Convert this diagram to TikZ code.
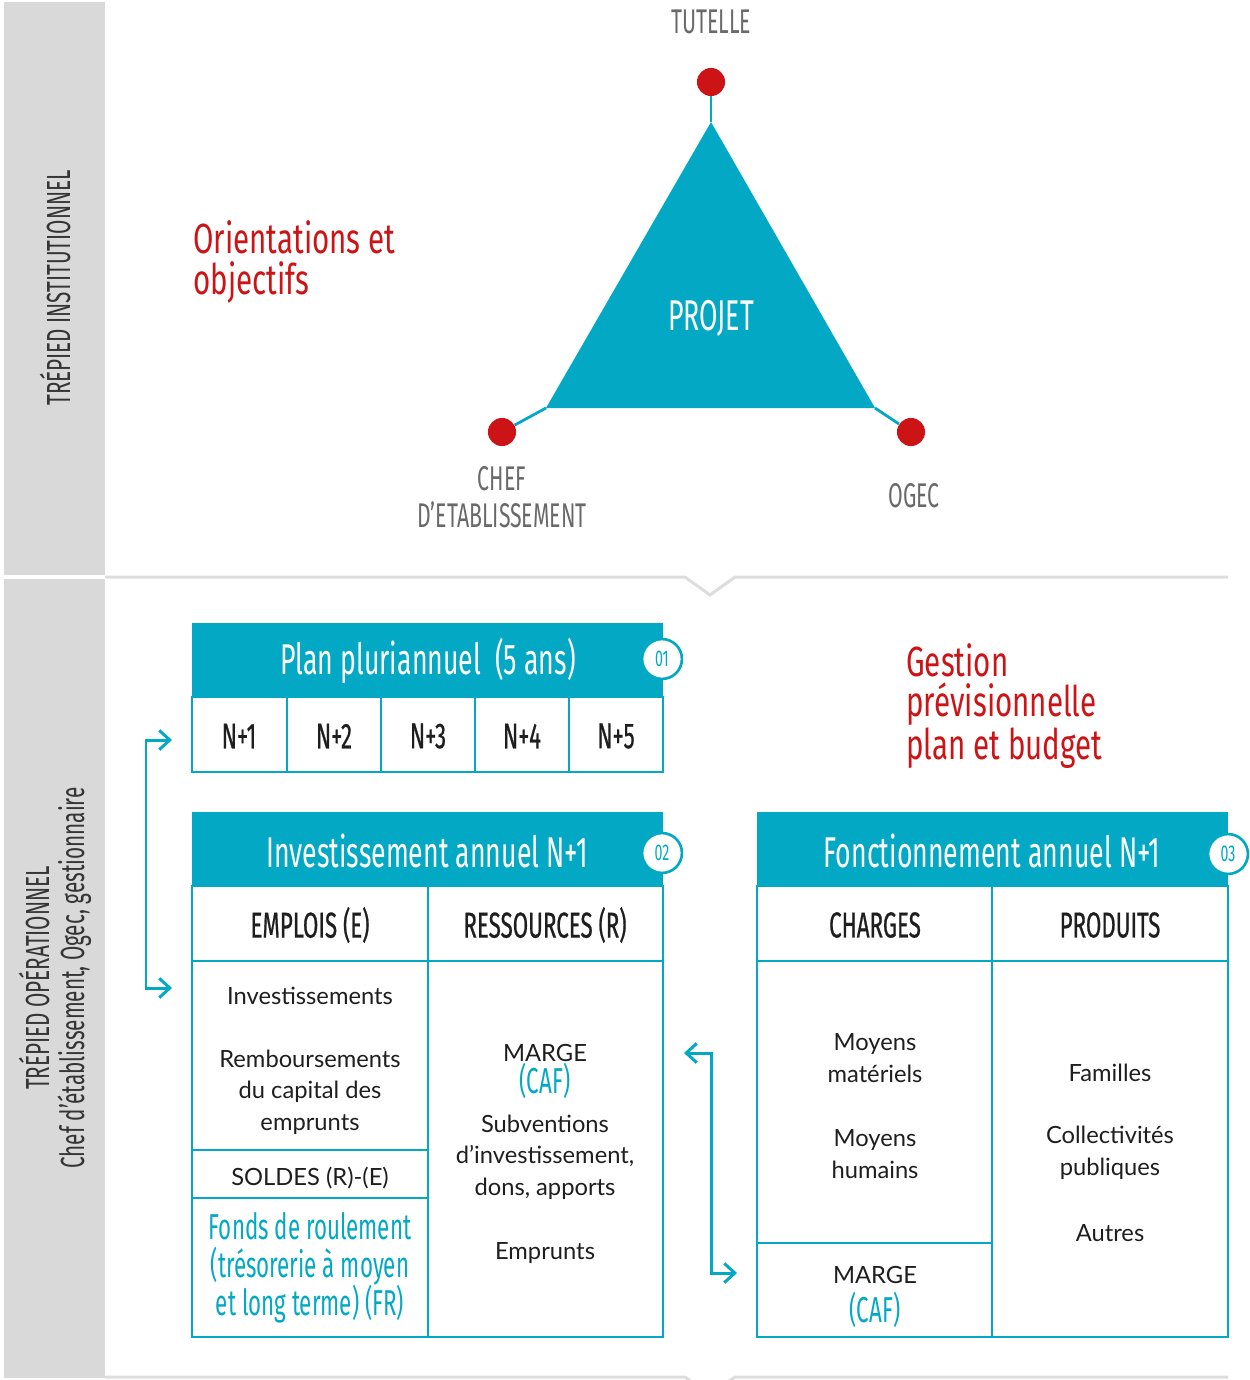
\documentclass[tikz,border=0pt]{standalone}
\usepackage{fontspec}
\setmainfont{Lato}
\newfontfamily\dinfont[FakeStretch=0.62]{Fira Sans}
\newfontfamily\dinmed[FakeStretch=0.62,FakeBold=0.6]{Fira Sans}
\newfontfamily\dinlarge[FakeStretch=0.7]{Fira Sans}
\usetikzlibrary{arrows.meta}

\definecolor{bleu}{RGB}{3,169,196}
\definecolor{rouge}{RGB}{204,20,23}
\definecolor{grisfond}{RGB}{217,217,217}
\definecolor{gristexte}{RGB}{105,105,105}
\definecolor{grisligne}{RGB}{221,221,221}
\definecolor{noirtxt}{RGB}{30,30,30}

\tikzset{
  titre/.style={font=\dinfont\fontsize{24.5}{28}\selectfont, text=white},
  entete/.style={font=\dinmed\fontsize{20.5}{24}\selectfont, text=noirtxt},
  corps/.style={font=\fontsize{13.5}{18}\selectfont, align=center, text=noirtxt},
  bleutxt/.style={font=\dinfont\fontsize{20.5}{21.8}\selectfont, align=center, text=bleu},
  rougetxt/.style={font=\dinlarge\fontsize{24}{23}\selectfont, align=left, text=rouge,
    anchor=west, inner xsep=0pt},
  pole/.style={font=\dinfont\fontsize{19.5}{21}\selectfont, align=center, text=gristexte},
  cote/.style={font=\dinfont\fontsize{19}{20}\selectfont, align=center, text=noirtxt!90, rotate=90},
  pastille/.style={circle, draw=bleu, line width=1.5pt, fill=white, minimum size=22.7pt,
    inner sep=0pt, text=bleu, font=\dinfont\fontsize{13}{13}\selectfont},
  point/.style={circle, fill=rouge, minimum size=16pt, inner sep=0pt},
  trait/.style={draw=bleu, line width=1.1pt},
  fleche/.style={draw=bleu, line width=1.7pt, >={Straight Barb[length=6pt,width=11pt]}, <->},
  separ/.style={draw=grisligne, line width=1.7pt}
}

\begin{document}
\begin{tikzpicture}[x=0.02cm,y=-0.02cm]
	\useasboundingbox (0,0) rectangle (1250,1380);

	\fill[grisfond] (4,2) rectangle (105,575);
	\fill[grisfond] (4,579) rectangle (105,1378);
	\node[cote] (tinst) at (55,288) {TRÉPIED INSTITUTIONNEL};
	\node[cote] (tope) at (55,978) {TRÉPIED OPÉRATIONNEL\\Chef d’établissement, Ogec, gestionnaire};

	\draw[separ] (105,577) -- (685,577) -- (710,595) -- (735,577) -- (1228,577);
	\draw[separ] (105,1377) -- (685,1377) -- (710,1395) -- (735,1377) -- (1228,1377);

	\coordinate (sT) at (711,122);
	\coordinate (sO) at (875,408);
	\coordinate (sC) at (546,408);
	\fill[bleu] (sT) -- (sO) -- (sC) -- cycle;
	\node[point] (pT) at (711,82) {};
	\node[point] (pC) at (502,432) {};
	\node[point] (pO) at (911,432) {};
	\draw[trait, line width=1.6pt] (sT) -- (pT);
	\draw[trait, line width=1.6pt] (sC) -- (pC);
	\draw[trait, line width=1.6pt] (sO) -- (pO);
	\node[titre] (projet) at (711,318) {PROJET};
	\node[pole] (tutelle) at (711,22) {TUTELLE};
	\node[pole] (chef) at (502,497) {CHEF\\D’ETABLISSEMENT};
	\node[pole] (ogec) at (914,496) {OGEC};
	\node[rougetxt] (orient) at (193,262) {Orientations et\\objectifs};
	\node[rougetxt] (gestion) at (906,706) {Gestion\\prévisionnelle\\plan et budget};

	\fill[bleu] (192,623) rectangle (663,697);
	\draw[trait] (192,697) rectangle (663,772);
	\foreach \x in {287,381,475,569}
		\draw[trait] (\x,697) -- (\x,772);
	\node[titre] (plan) at (428,661) {Plan pluriannuel\ \ (5 ans)};
	\node[pastille] (b1) at (662,659) {01};
	\node[entete] (n1) at (239,736) {N+1};
	\node[entete] (n2) at (334,736) {N+2};
	\node[entete] (n3) at (428,736) {N+3};
	\node[entete] (n4) at (522,736) {N+4};
	\node[entete] (n5) at (616,736) {N+5};

	\fill[bleu] (192,812) rectangle (663,886);
	\draw[trait] (192,886) rectangle (663,1337);
	\draw[trait] (192,961) -- (663,961);
	\draw[trait] (428,886) -- (428,1337);
	\draw[trait] (192,1150) -- (428,1150);
	\draw[trait] (192,1198) -- (428,1198);
	\node[titre] (invest) at (427,851) {Investissement annuel N+1};
	\node[pastille] (b2) at (662,853) {02};
	\node[entete] (emplois) at (310,925) {EMPLOIS (E)};
	\node[entete] (ress) at (545,925) {RESSOURCES (R)};
	\node[corps] (inv) at (310,996) {Investissements};
	\node[corps] (remb) at (310,1092) {Remboursements\\du capital des\\emprunts};
	\node[corps] (soldes) at (310,1178) {SOLDES (R)-(E)};
	\node[bleutxt] (fonds) at (310,1268) {Fonds de roulement\\(trésorerie à moyen\\et long terme) (FR)};
	\node[corps] (marge1) at (545,1053) {MARGE};
	\node[bleutxt] (caf1) at (545,1081) {(CAF)};
	\node[corps] (subv) at (545,1157) {Subventions\\d’investissement,\\dons, apports};
	\node[corps] (empr) at (545,1253) {Emprunts};

	\fill[bleu] (757,812) rectangle (1228,886);
	\draw[trait] (757,886) rectangle (1228,1337);
	\draw[trait] (757,961) -- (1228,961);
	\draw[trait] (992,886) -- (992,1337);
	\draw[trait] (757,1243) -- (992,1243);
	\node[titre] (fonct) at (992,851) {Fonctionnement annuel N+1};
	\node[pastille] (b3) at (1228,854) {03};
	\node[entete] (charges) at (875,925) {CHARGES};
	\node[entete] (produits) at (1110,925) {PRODUITS};
	\node[corps] (mmat) at (875,1058) {Moyens\\matériels};
	\node[corps] (mhum) at (875,1154) {Moyens\\humains};
	\node[corps] (marge2) at (875,1275) {MARGE};
	\node[bleutxt] (caf2) at (875,1310) {(CAF)};
	\node[corps] (fam) at (1110,1073) {Familles};
	\node[corps] (coll) at (1110,1153) {Collectivités\\publiques};
	\node[corps] (autres) at (1110,1233) {Autres};

	\coordinate (fA) at (172,740);
	\coordinate (fB) at (172,988);
	\draw[fleche] (fA) -- ++(-26,0) |- (fB);
	\coordinate (gA) at (684,1053);
	\coordinate (gB) at (737,1273);
	\draw[fleche] (gA) -- ++(27,0) |- (gB);
\end{tikzpicture}
\end{document}
